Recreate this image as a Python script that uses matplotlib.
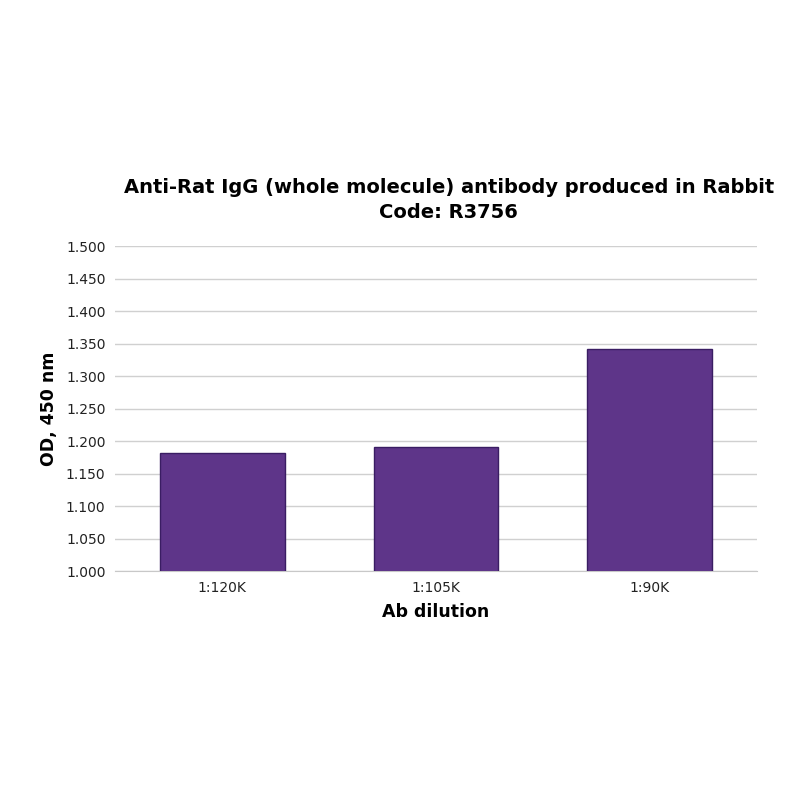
import numpy as np
import matplotlib
matplotlib.use('Agg')
import matplotlib.pyplot as plt

# Data
dilutions = ['1:120K', '1:105K', '1:90K']
od_450 = [1.181, 1.191, 1.341]
y_ticks = [1.000, 1.050, 1.100, 1.150, 1.200, 1.250, 1.300, 1.350, 1.400, 1.450, 1.500]

plt.rcParams['font.family'] = ['DejaVu Sans']

fig = plt.figure(figsize=(8, 8), dpi=100)
ax = fig.add_axes([0.144, 0.286, 0.802, 0.4065])

x = np.arange(len(dilutions))
ax.bar(x, od_450, width=0.584, bottom=0, color='#5e3589', edgecolor='#3a1d63',
       linewidth=1.0, zorder=3)

ax.set_xlim(-0.5, 2.5)
ax.set_ylim(1.0, 1.5)
ax.set_yticks(y_ticks)
ax.set_yticklabels([f'{v:.3f}' for v in y_ticks], fontsize=10, color='#222222')
ax.set_xticks(x)
ax.set_xticklabels(dilutions, fontsize=10, color='#222222')
ax.tick_params(axis='both', length=0, pad=7)

ax.grid(axis='y', color='#d0d0d0', linewidth=1.0, zorder=0)
for s in ['top', 'right', 'left']:
    ax.spines[s].set_visible(False)
ax.spines['bottom'].set_color('#c8c8c8')

ax.set_xlabel('Ab dilution', fontsize=12.5, fontweight='bold', labelpad=6)
ax.set_ylabel('OD, 450 nm', fontsize=12.5, fontweight='bold', labelpad=6)

fig.text(0.561, 0.75, 'Anti-Rat IgG (whole molecule) antibody produced in Rabbit\nCode: R3756',
         ha='center', va='center', fontsize=14, fontweight='bold', linespacing=1.35)

fig.savefig('out.png', dpi=100, facecolor='white')
